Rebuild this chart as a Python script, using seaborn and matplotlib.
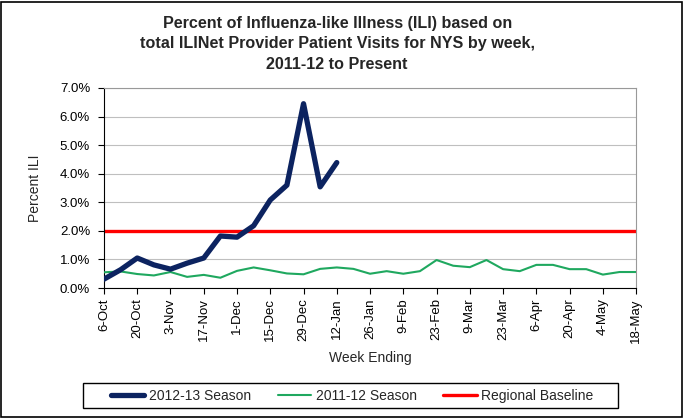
import matplotlib
matplotlib.use("Agg")
from matplotlib import pyplot as plt
from matplotlib.ticker import FuncFormatter, MultipleLocator
import seaborn as sns
import pandas as pd
import numpy as np

# week ending labels, 6-Oct .. 18-May (33 weeks)
week_labels = ["6-Oct", "13-Oct", "20-Oct", "27-Oct", "3-Nov", "10-Nov", "17-Nov",
               "24-Nov", "1-Dec", "8-Dec", "15-Dec", "22-Dec", "29-Dec", "5-Jan",
               "12-Jan", "19-Jan", "26-Jan", "2-Feb", "9-Feb", "16-Feb", "23-Feb",
               "2-Mar", "9-Mar", "16-Mar", "23-Mar", "30-Mar", "6-Apr", "13-Apr",
               "20-Apr", "27-Apr", "4-May", "11-May", "18-May"]

season_1213 = [0.31, 0.64, 1.05, 0.81, 0.66, 0.87, 1.05, 1.82, 1.78, 2.18,
               3.08, 3.60, 6.45, 3.54, 4.39]

season_1112 = [0.55, 0.58, 0.49, 0.44, 0.56, 0.39, 0.46, 0.36, 0.60, 0.72,
               0.62, 0.51, 0.48, 0.67, 0.72, 0.67, 0.50, 0.59, 0.50, 0.59,
               0.98, 0.78, 0.73, 0.98, 0.66, 0.59, 0.81, 0.81, 0.66, 0.66,
               0.47, 0.56, 0.56]

baseline = 2.0

sns.set_style("white")
plt.rcParams["font.family"] = ["Liberation Sans", "DejaVu Sans"]

df_new = pd.DataFrame({"week": np.arange(len(season_1213)), "ili": season_1213})
df_old = pd.DataFrame({"week": np.arange(len(season_1112)), "ili": season_1112})
df_base = pd.DataFrame({"week": np.arange(len(week_labels)), "ili": baseline})

fig = plt.figure(figsize=(6.84, 4.19), dpi=100)
ax = fig.add_axes([0.152, 0.3126, 0.778, 0.4774])

sns.lineplot(data=df_base, x="week", y="ili", ax=ax, color="#FF0000", lw=2.4,
             label="Regional Baseline", zorder=2)
sns.lineplot(data=df_old, x="week", y="ili", ax=ax, color="#1FA85F", lw=1.5,
             label="2011-12 Season", zorder=3)
sns.lineplot(data=df_new, x="week", y="ili", ax=ax, color="#0C2360", lw=3.8,
             label="2012-13 Season", zorder=4, solid_capstyle="round")

ax.set_xlim(0, len(week_labels) - 1)
ax.set_ylim(0, 7)
ax.yaxis.set_major_locator(MultipleLocator(1))
ax.yaxis.set_major_formatter(FuncFormatter(lambda v, p: f"{v:.1f}%"))
ax.set_xticks(np.arange(0, len(week_labels), 2))
ax.set_xticklabels(week_labels[::2], rotation=90)
ax.grid(axis="y", color="#BFBFBF", lw=0.8)
ax.set_axisbelow(True)

for s in ["top", "right"]:
    ax.spines[s].set_color("#999999")
    ax.spines[s].set_linewidth(0.8)
for s in ["left", "bottom"]:
    ax.spines[s].set_color("black")
    ax.spines[s].set_linewidth(0.8)

ax.tick_params(axis="both", direction="out", length=4, width=0.8, colors="black",
               labelsize=9.5, left=True, bottom=True)
ax.tick_params(axis="y", pad=6)
ax.set_xlabel("Week Ending", fontsize=10, labelpad=6)
ax.set_ylabel("Percent ILI", fontsize=10, labelpad=13)

fig.suptitle("Percent of Influenza-like Illness (ILI) based on\n"
             "total ILINet Provider Patient Visits for NYS by week,\n"
             "2011-12 to Present",
             x=0.493, y=0.962, fontsize=11.6, fontweight="bold", linespacing=1.45)

handles, labels = ax.get_legend_handles_labels()
order = [labels.index("2012-13 Season"), labels.index("2011-12 Season"),
         labels.index("Regional Baseline")]
leg = fig.legend([handles[i] for i in order], [labels[i] for i in order],
                 loc="center", bbox_to_anchor=(0.515, 0.056), ncol=3,
                 frameon=False, fontsize=10, handlelength=2.4,
                 columnspacing=1.9, borderpad=0.2, handletextpad=0.35)
ax.get_legend().remove()

# legend box and outer chart border
fig.patches.append(plt.Rectangle((83 / 684, 11 / 419), 535 / 684, 25 / 419,
                                 transform=fig.transFigure, fill=False,
                                 edgecolor="black", lw=1.0))
fig.patches.append(plt.Rectangle((0.002, 0.004), 0.995, 0.992, transform=fig.transFigure,
                                 fill=False, edgecolor="black", lw=1.2))

fig.savefig("out.png", dpi=100)
